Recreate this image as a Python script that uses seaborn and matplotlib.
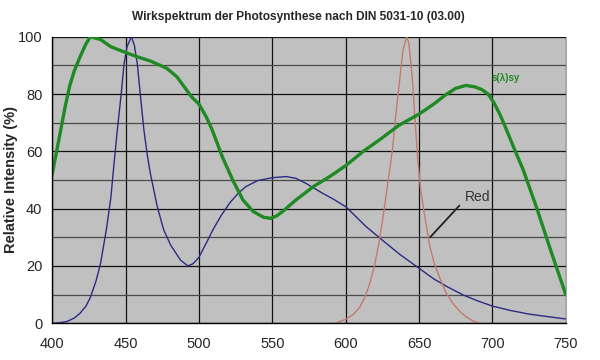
import numpy as np
import pandas as pd
import matplotlib
matplotlib.use("Agg")
import matplotlib.pyplot as plt
from matplotlib.ticker import MultipleLocator
import seaborn as sns

# ---------------- data ----------------
green_wl = [400, 403, 406, 409, 412, 415, 419, 423, 426, 433, 440, 450, 458, 467,
            478, 485, 490, 495, 500, 505, 509, 516, 523, 530, 537, 544, 549, 553,
            557, 566, 578, 590, 600, 612, 623, 636, 650, 660, 668, 675, 682, 688,
            693, 697, 701, 705, 710, 714, 721, 730, 740, 750]
green_val = [52, 60, 68, 76, 83, 88, 93, 97.5, 100, 99, 96.5, 94.5, 93, 91.5,
             89, 86, 82.5, 79, 76.5, 72, 67.5, 58, 50, 43, 39, 37, 36.6, 37.5,
             39, 43, 47.7, 51.5, 55, 60, 64, 69, 73, 76.5, 79.7, 82, 83, 82.5,
             81.5, 80, 77, 73, 67, 62, 53.5, 40.5, 25, 10]

blue_wl = [400, 405, 410, 415, 419, 423, 426, 430, 433, 437, 440, 442, 444.3, 447,
           449, 451, 454, 456, 458, 460, 462.5, 465, 467, 471.6, 476, 480.7, 487.5,
           492.5, 496, 500, 505, 509.5, 515, 521, 527, 532, 540, 550, 559.5, 566,
           573, 584.5, 592, 600, 607, 614, 625, 637, 650, 660, 669, 680, 690, 700,
           712, 725, 738, 750]
blue_val = [0, 0.2, 0.6, 1.8, 3.5, 6, 9, 15, 21, 33, 44, 55, 67, 80,
            90.7, 96.5, 100, 97, 90.5, 80, 67.4, 58, 52, 40.7, 32.6, 27.3, 22,
            20, 20.8, 23, 28, 32.6, 37.5, 42, 45.5, 47.7, 49.8, 50.8, 51.2, 50.6,
            48.8, 45.3, 43.2, 40.7, 37.2, 33.7, 29, 24, 19.2, 15.5, 12.8, 9.9, 7.8, 6,
            4.5, 3.2, 2.3, 1.5]

red_wl = [593, 600, 605, 609.5, 613, 616.5, 620, 623, 626, 629, 632, 634, 637, 639,
          641.5, 643, 645.5, 647, 649, 651, 654, 657.3, 660, 664, 668, 673, 678,
          682, 686, 691]
red_val = [0, 1.4, 3, 5.5, 9, 14, 21, 29, 39, 50, 61, 72, 86, 95,
           100, 98, 85, 73, 58, 47, 37, 27, 21.5, 16, 11, 7, 4,
           2.3, 1, 0]

x_ticks = [400, 450, 500, 550, 600, 650, 700, 750]
y_ticks = [0, 20, 40, 60, 80, 100]

sns.set_style("white", {"axes.facecolor": "#c0c0c0"})
plt.rcParams["font.family"] = ["Liberation Sans", "DejaVu Sans"]

fig = plt.figure(figsize=(6, 3.6), dpi=100)
ax = fig.add_axes([0.087, 0.102, 0.856, 0.796])

df_g = pd.DataFrame({"wl": green_wl, "val": green_val})
df_b = pd.DataFrame({"wl": blue_wl, "val": blue_val})
df_r = pd.DataFrame({"wl": red_wl, "val": red_val})

sns.lineplot(data=df_b, x="wl", y="val", ax=ax, color="#2b2b85", linewidth=1.0)
sns.lineplot(data=df_r, x="wl", y="val", ax=ax, color="#c47a68", linewidth=1.0)
sns.lineplot(data=df_g, x="wl", y="val", ax=ax, color="#1f8a24", linewidth=2.4)

ax.set_xlim(400, 750)
ax.set_ylim(0, 100)
ax.set_xticks(x_ticks)
ax.set_yticks(y_ticks)
ax.xaxis.set_minor_locator(MultipleLocator(5))
ax.yaxis.set_minor_locator(MultipleLocator(10))

# grid lines
ax.grid(which="major", axis="both", color="#111111", linewidth=0.9)
ax.grid(which="minor", axis="y", color="#4a4a4a", linewidth=0.9)
ax.set_axisbelow(True)

ax.tick_params(axis="both", which="major", labelsize=10.5, length=4, color="black",
               direction="out")
ax.tick_params(axis="x", which="minor", length=2, color="black")
ax.tick_params(axis="y", which="minor", length=0)
ax.tick_params(axis="x", pad=6)
ax.tick_params(axis="y", pad=3)

for s in ["left", "bottom"]:
    ax.spines[s].set_color("black")
    ax.spines[s].set_linewidth(1.0)
ax.spines["right"].set_color("#a8a8a8")
ax.spines["top"].set_visible(False)

ax.set_xlabel("")
ax.set_ylabel("Relative Intensity (%)", fontsize=10.5, fontweight="bold")
ax.yaxis.set_label_coords(-0.066, 0.5)
fig.text(0.497, 0.952, "Wirkspektrum der Photosynthese nach DIN 5031-10 (03.00)",
         ha="center", va="center", fontsize=8.6, fontweight="bold")

# annotations
ax.text(709, 85.5, "s(λ)sy", color="#1f8a24", fontsize=7, fontweight="bold",
        ha="center", va="center")
ax.annotate("Red", xy=(657.5, 30), xytext=(681, 44), fontsize=10, color="#333333",
            ha="left", va="center",
            arrowprops=dict(arrowstyle="-", color="#222222", lw=1.3,
                            shrinkA=2, shrinkB=0, relpos=(0, 0.3)))

fig.savefig("out.png", dpi=100, facecolor="white")
